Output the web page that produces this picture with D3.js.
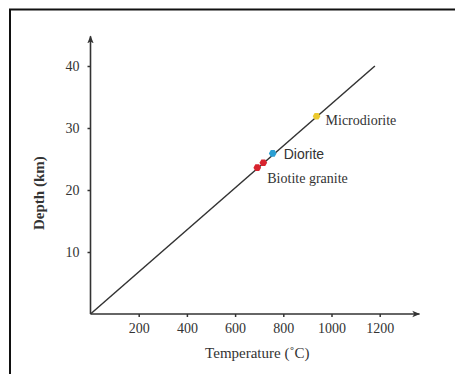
<!DOCTYPE html>
<html><head><meta charset="utf-8">
<script src="https://cdn.jsdelivr.net/npm/d3@7"></script>
<style>body{margin:0;background:#fff;}svg{display:block;}</style>
</head><body>
<svg id="c" width="455" height="374"></svg>
<script>
const xTicks = [200, 400, 600, 800, 1000, 1200];
const yTicks = [10, 20, 30, 40];
const geotherm = [[0, 0], [1180, 40]];
const sampleNames = ["Biotite granite", "Biotite granite", "Diorite", "Microdiorite"];
const sampleTemps = [692, 717, 756, 938];
const sampleDepths = [23.6, 24.4, 25.9, 31.9];
const sampleColors = ["#d8232e", "#d8232e", "#2b9fd3", "#ecc92e"];
const labels = [
  {text: "Microdiorite", t: 938, d: 31.9, dx: 9, dy: 9, font: "Liberation Serif"},
  {text: "Diorite", t: 756, d: 25.9, dx: 11, dy: 6, font: "Liberation Sans"},
  {text: "Biotite granite", t: 692, d: 23.6, dx: 10, dy: 15, font: "Liberation Serif"}
];

const svg = d3.select("#c");
svg.append("rect").attr("x", 10).attr("y", 9.5).attr("width", 470).attr("height", 420)
  .attr("fill", "none").attr("stroke", "#111").attr("stroke-width", 2);

const x = d3.scaleLinear().domain([0, 1200]).range([90.5, 379.7]);
const y = d3.scaleLinear().domain([0, 40]).range([314, 66]);
const axisColor = "#333";

const defs = svg.append("defs");
defs.append("marker").attr("id", "arr").attr("viewBox", "0 0 10 10")
  .attr("refX", 9).attr("refY", 5).attr("markerWidth", 8).attr("markerHeight", 8)
  .attr("markerUnits", "userSpaceOnUse").attr("orient", "auto")
  .append("path").attr("d", "M0,1 L10,5 L0,9 L2.5,5 Z").attr("fill", axisColor);

// axes with ticks
const gx = svg.append("g").attr("transform", `translate(0,${y(0)})`)
  .call(d3.axisBottom(x).tickValues(xTicks).tickFormat(d3.format("d")).tickSize(3).tickPadding(6));
const gy = svg.append("g").attr("transform", `translate(${x(0)},0)`)
  .call(d3.axisLeft(y).tickValues(yTicks).tickFormat(d3.format("d")).tickSize(3).tickPadding(8));
[gx, gy].forEach(g => {
  g.select(".domain").remove();
  g.selectAll(".tick line").attr("stroke", axisColor).attr("stroke-width", 1.5);
  g.selectAll(".tick text").attr("fill", "#333").style("font-family", "Liberation Serif").style("font-size", "14px");
});

// axis lines with arrows
svg.append("line").attr("x1", x(0)).attr("y1", y(0)).attr("x2", x(1365)).attr("y2", y(0))
  .attr("stroke", axisColor).attr("stroke-width", 1.6).attr("marker-end", "url(#arr)");
svg.append("line").attr("x1", x(0)).attr("y1", y(0)).attr("x2", x(0)).attr("y2", y(44.8))
  .attr("stroke", axisColor).attr("stroke-width", 1.6).attr("marker-end", "url(#arr)");

// geotherm
svg.append("path").datum(geotherm)
  .attr("d", d3.line().x(d => x(d[0])).y(d => y(d[1])))
  .attr("stroke", "#333").attr("stroke-width", 1.5).attr("fill", "none");

// samples (small hexagon markers)
const hexagon = {
  draw(ctx, size) {
    const r = Math.sqrt(size / 2.598);
    for (let k = 0; k < 6; k++) {
      const a = Math.PI / 3 * k;
      const px = r * Math.cos(a), py = r * Math.sin(a);
      if (k === 0) ctx.moveTo(px, py); else ctx.lineTo(px, py);
    }
    ctx.closePath();
  }
};
const sym = d3.symbol().type(hexagon).size(38);
svg.selectAll(".pt").data(sampleTemps).join("path")
  .attr("transform", (t, i) => `translate(${x(t)},${y(sampleDepths[i])})`)
  .attr("d", sym).attr("fill", (t, i) => sampleColors[i]);

svg.selectAll(".lbl").data(labels).join("text")
  .attr("x", d => x(d.t) + d.dx).attr("y", d => y(d.d) + d.dy)
  .text(d => d.text).attr("fill", "#333")
  .style("font-family", d => d.font).style("font-size", "14px");

// axis titles
svg.append("text").attr("x", x(692)).attr("y", 358)
  .attr("text-anchor", "middle").attr("fill", "#333")
  .style("font-family", "Liberation Serif").style("font-size", "15px")
  .text("Temperature (˚C)");
svg.append("text").attr("transform", `translate(44,${y(19.5)}) rotate(-90)`)
  .attr("text-anchor", "middle").attr("fill", "#333")
  .style("font-family", "Liberation Serif").style("font-size", "15px").style("font-weight", "bold")
  .text("Depth (km)");
</script>
</body></html>
